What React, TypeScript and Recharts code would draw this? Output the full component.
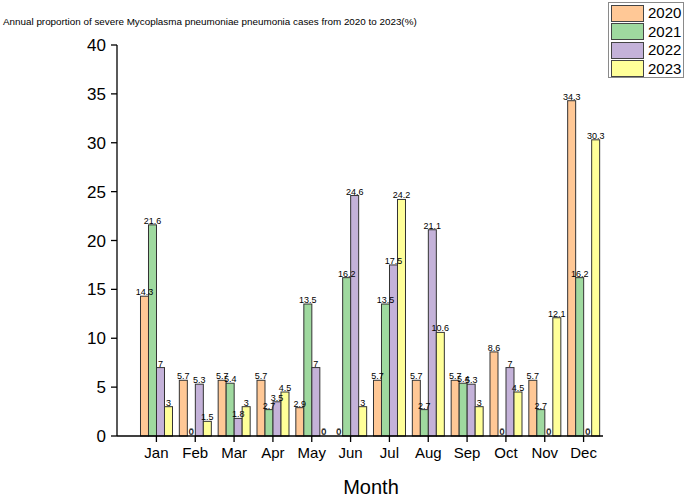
import React from 'react'
import { BarChart, Bar, XAxis, YAxis, LabelList } from 'recharts'

const months = ['Jan', 'Feb', 'Mar', 'Apr', 'May', 'Jun', 'Jul', 'Aug', 'Sep', 'Oct', 'Nov', 'Dec']
const y2020 = [14.3, 5.7, 5.7, 5.7, 2.9, 0, 5.7, 5.7, 5.7, 8.6, 5.7, 34.3]
const y2021 = [21.6, 0, 5.4, 2.7, 13.5, 16.2, 13.5, 2.7, 5.4, 0, 2.7, 16.2]
const y2022 = [7, 5.3, 1.8, 3.5, 7, 24.6, 17.5, 21.1, 5.3, 7, 0, 0]
const y2023 = [3, 1.5, 3, 4.5, 0, 3, 24.2, 10.6, 3, 4.5, 12.1, 30.3]
const yTicks = [0, 5, 10, 15, 20, 25, 30, 35, 40]

const series = [
  { key: '2020', color: '#FFC896' },
  { key: '2021', color: '#9FD99F' },
  { key: '2022', color: '#C4B2D9' },
  { key: '2023', color: '#FFFF99' },
]

const data = months.map((m, i) => ({
  month: m,
  '2020': y2020[i],
  '2021': y2021[i],
  '2022': y2022[i],
  '2023': y2023[i],
}))

const font = 'Arial, "Liberation Sans", sans-serif'

// bar rect; zero-height bars still get their "0" label here,
// since LabelList skips them
const makeShape = (key: string, color: string) => (props: any) => {
  const { x, y, width, height, payload } = props
  const value = payload ? payload[key] : props.value
  const h = Math.abs(Number(height) || 0)
  const top = Number(height) < 0 ? Number(y) + Number(height) : Number(y)
  return (
    <g>
      {h > 0 && (
        <rect x={x} y={top} width={width} height={h} fill={color} stroke="#333" strokeWidth={1} />
      )}
      {value === 0 && (
        <text
          x={Number(x) + Number(width) / 2}
          y={top - 2}
          textAnchor="middle"
          fontSize={9}
          fontFamily={font}
          fill="#000"
          fillOpacity={0.6}
          stroke="none"
        >
          0
        </text>
      )}
    </g>
  )
}

const LegendBox = () => (
  <div
    style={{
      position: 'absolute',
      left: 608,
      top: 2,
      width: 76,
      height: 76,
      boxSizing: 'border-box',
      border: '1px solid #8a8a8a',
      padding: '1px 2px',
      background: '#fff',
      fontFamily: font,
    }}
  >
    {series.map((s) => (
      <div key={s.key} style={{ display: 'flex', alignItems: 'center', height: 18.5 }}>
        <div
          style={{
            width: 31,
            height: 15,
            flex: 'none',
            background: s.color,
            border: '1px solid #444',
            marginRight: 4,
          }}
        />
        <span style={{ fontSize: 15, color: '#000', lineHeight: '18px' }}>{s.key}</span>
      </div>
    ))}
  </div>
)

export default function App() {
  return (
    <div
      style={{
        position: 'absolute',
        left: 0,
        top: 0,
        width: 685,
        height: 496,
        overflow: 'hidden',
        background: '#fff',
      }}
    >
      <div
        style={{
          position: 'absolute',
          left: 3,
          top: 16,
          fontSize: 9.85,
          fontFamily: font,
          color: '#000',
          whiteSpace: 'nowrap',
        }}
      >
        Annual proportion of severe Mycoplasma pneumoniae pneumonia cases from 2020 to 2023(%)
      </div>
      <BarChart
        width={685}
        height={496}
        data={data}
        margin={{ top: 45, right: 82, bottom: 0, left: 77 }}
        barCategoryGap="9%"
        barGap={0}
      >
        <XAxis
          dataKey="month"
          height={60}
          padding={{ left: 20, right: 0 }}
          tickSize={6}
          tickMargin={5}
          tick={{ fill: '#000', fontSize: 15, fontFamily: font }}
          axisLine={{ stroke: '#000', strokeWidth: 1.3 }}
          tickLine={{ stroke: '#000', strokeWidth: 1.3 }}
        />
        <YAxis
          width={40}
          domain={[0, 40]}
          ticks={yTicks}
          interval={0}
          tickSize={6}
          tickMargin={5}
          tick={{ fill: '#000', fontSize: 17, fontFamily: font }}
          axisLine={{ stroke: '#000', strokeWidth: 1.3 }}
          tickLine={{ stroke: '#000', strokeWidth: 1.3 }}
        />
        {series.map((s) => (
          <Bar
            key={s.key}
            dataKey={s.key}
            fill={s.color}
            isAnimationActive={false}
            shape={makeShape(s.key, s.color)}
          >
            <LabelList
              dataKey={s.key}
              position="top"
              offset={1}
              fill="#000"
              fontSize={9}
              fontFamily={font}
            />
          </Bar>
        ))}
        <text x={371} y={494} textAnchor="middle" fontSize={20} fontFamily={font} fill="#000">
          Month
        </text>
      </BarChart>
      <LegendBox />
    </div>
  )
}
